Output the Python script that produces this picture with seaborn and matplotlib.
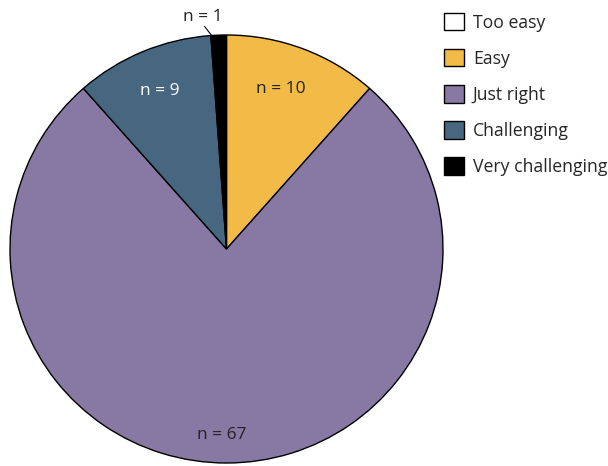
import numpy as np
import matplotlib
matplotlib.use("Agg")
import matplotlib.pyplot as plt
import matplotlib.patches as mpatches
import seaborn as sns

# --- data ---
categories = ["Too easy", "Easy", "Just right", "Challenging", "Very challenging"]
counts = [0, 10, 67, 9, 1]
colors = ["#FFFFFF", "#F2BB47", "#8878A4", "#46677F", "#000000"]
text_colors = ["#222222", "#222222", "#222222", "#FFFFFF", "#222222"]

sns.set_theme(style="white")
plt.rcParams["font.family"] = ["Open Sans", "DejaVu Sans"]

fig = plt.figure(figsize=(6.08, 4.66), dpi=100)
W, H = 608, 466
ax = fig.add_axes([10 / W, 3 / H, 433 / W, 428 / H])

wedges, _ = ax.pie(counts, colors=colors, startangle=90, counterclock=False,
                   wedgeprops=dict(edgecolor="black", linewidth=1.0),
                   radius=1.0)
ax.set_xlim(-1, 1)
ax.set_ylim(-1, 1)
ax.set_aspect("auto")
ax.axis("off")

# --- labels (radius, angle nudge in degrees) ---
label_pos = {10: (0.79, 2.0), 9: (0.80, 0.0), 67: (0.87, -1.5)}
for w, n, tc in zip(wedges, counts, text_colors):
    if n == 0:
        continue
    mid = np.deg2rad((w.theta1 + w.theta2) / 2)
    if n == 1:
        x0 = np.cos(mid)
        ax.plot([x0 - 0.065, x0 - 0.033], [1.04, 0.998],
                color="black", lw=0.8, clip_on=False)
        ax.text(x0 - 0.073, 1.083, f"n = {n}", ha="center", va="center",
                fontsize=12.5, color=tc)
        continue
    r, nudge = label_pos[n]
    a = mid + np.deg2rad(nudge)
    ax.text(r * np.cos(a), r * np.sin(a), f"n = {n}", ha="center", va="center",
            fontsize=12.5, color=tc)

# --- legend ---
handles = [mpatches.Patch(facecolor=c, edgecolor="black", linewidth=1.0) for c in colors]
fig.legend(handles, categories, loc="upper left", bbox_to_anchor=(437 / W, 1 - 6 / H),
           frameon=False, fontsize=12.7, handlelength=1.13, handleheight=1.13,
           labelspacing=0.99, handletextpad=0.5, borderaxespad=0)

fig.savefig("out.png", dpi=100)
